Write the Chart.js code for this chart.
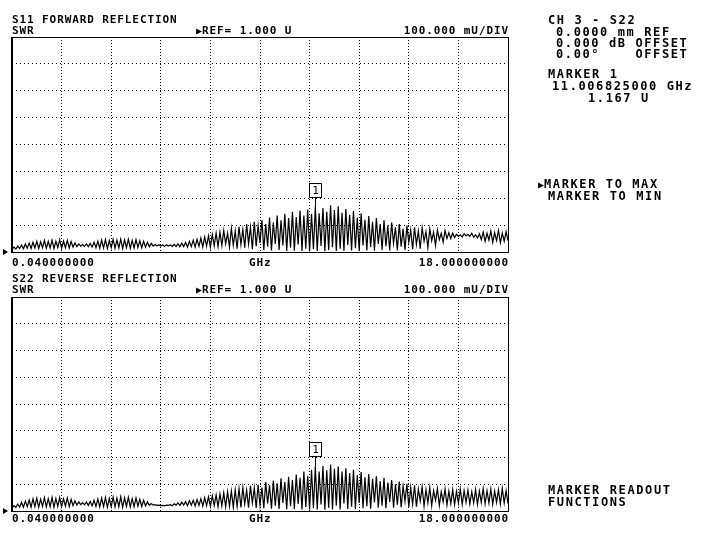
<!DOCTYPE html>
<html>
<head>
  <meta charset="UTF-8">
  <title>S11 / S22 SWR</title>
  <script src="https://cdn.jsdelivr.net/npm/chart.js"></script>
  <style>
    body { margin: 0; background: #fff; }
    #page { position: relative; width: 701px; height: 538px; overflow: hidden;
            font-family: "DejaVu Sans Mono", monospace; font-size: 11px; font-weight: bold;
            letter-spacing: 0.9px; color: #000; }
    canvas { position: absolute; left: 0; top: 0; }
    .t { position: absolute; white-space: pre; line-height: 12px; }
    .side { font-size: 12px; letter-spacing: 1.6px; }
    .tri { font-size: 10px; letter-spacing: 0; }
  </style>
</head>
<body>
<div id="page">
  <canvas id="s11" width="701" height="538"></canvas>
  <canvas id="s22" width="701" height="538"></canvas>

  <div class="t" style="left:12px;top:14px">S11 FORWARD REFLECTION</div>
  <div class="t" style="left:12px;top:25px">SWR</div>
  <div class="t" style="left:196px;top:25px"><span class="tri">▶</span>REF= 1.000 U</div>
  <div class="t" style="right:192px;top:25px">100.000 mU/DIV</div>
  <div class="t" style="left:12px;top:257px">0.040000000</div>
  <div class="t" style="left:249px;top:257px">GHz</div>
  <div class="t" style="right:192px;top:257px">18.000000000</div>

  <div class="t" style="left:12px;top:273px">S22 REVERSE REFLECTION</div>
  <div class="t" style="left:12px;top:284px">SWR</div>
  <div class="t" style="left:196px;top:284px"><span class="tri">▶</span>REF= 1.000 U</div>
  <div class="t" style="right:192px;top:284px">100.000 mU/DIV</div>
  <div class="t" style="left:12px;top:513px">0.040000000</div>
  <div class="t" style="left:249px;top:513px">GHz</div>
  <div class="t" style="right:192px;top:513px">18.000000000</div>

  <div class="t side" style="left:548px;top:14px">CH 3 - S22</div>
  <div class="t side" style="left:556px;top:26px">0.0000 mm REF</div>
  <div class="t side" style="left:556px;top:37px">0.000 dB OFFSET</div>
  <div class="t side" style="left:556px;top:48px">0.00°    OFFSET</div>
  <div class="t side" style="left:548px;top:68px">MARKER 1</div>
  <div class="t side" style="left:552px;top:80px">11.006825000 GHz</div>
  <div class="t side" style="left:588px;top:92px">1.167 U</div>
  <div class="t side" style="left:538px;top:178px"><span class="tri">▶</span>MARKER TO MAX</div>
  <div class="t side" style="left:548px;top:190px">MARKER TO MIN</div>
  <div class="t side" style="left:548px;top:484px">MARKER READOUT</div>
  <div class="t side" style="left:548px;top:496px">FUNCTIONS</div>
</div>
<script>
  // sweep: 261 points from start to stop
  const startGHz = 0.04;
  const stopGHz = 18.0;
  const refSwr = 1.0;
  const perDiv = 0.1;
  const yDivs = 8;
  const xDivs = 10;
  const markerGHz = 11.006825;
  const markerSwr = 1.167;

  // S11 forward reflection, SWR
  const s11Swr = [
    1.010, 1.018, 1.011, 1.022, 1.013, 1.026, 1.012, 1.030, 1.014, 1.033,
    1.013, 1.036, 1.015, 1.040, 1.013, 1.038, 1.016, 1.043, 1.014, 1.039,
    1.015, 1.044, 1.013, 1.040, 1.017, 1.045, 1.014, 1.041, 1.016, 1.043,
    1.015, 1.039, 1.018, 1.034, 1.020, 1.030, 1.022, 1.028, 1.021, 1.030,
    1.020, 1.032, 1.018, 1.036, 1.016, 1.040, 1.014, 1.044, 1.015, 1.046,
    1.013, 1.042, 1.016, 1.047, 1.014, 1.044, 1.015, 1.048, 1.013, 1.045,
    1.016, 1.047, 1.014, 1.043, 1.015, 1.046, 1.017, 1.042, 1.016, 1.040,
    1.018, 1.036, 1.020, 1.032, 1.022, 1.028, 1.023, 1.027, 1.022, 1.026,
    1.021, 1.027, 1.022, 1.026, 1.021, 1.028, 1.020, 1.030, 1.019, 1.033,
    1.020, 1.036, 1.018, 1.040, 1.020, 1.044, 1.018, 1.047, 1.021, 1.052,
    1.019, 1.056, 1.022, 1.060, 1.018, 1.065, 1.023, 1.070, 1.020, 1.074,
    1.024, 1.080, 1.030, 1.070, 1.019, 1.088, 1.025, 1.078, 1.012, 1.094,
    1.028, 1.084, 1.016, 1.104, 1.030, 1.092, 1.010, 1.112, 1.022, 1.098,
    1.034, 1.118, 1.008, 1.104, 1.020, 1.128, 1.006, 1.110, 1.030, 1.136,
    1.008, 1.118, 1.024, 1.142, 1.004, 1.126, 1.016, 1.150, 1.005, 1.130,
    1.028, 1.154, 1.004, 1.136, 1.012, 1.158, 1.003, 1.142, 1.010, 1.167,
    1.004, 1.144, 1.022, 1.164, 1.003, 1.150, 1.008, 1.174, 1.018, 1.156,
    1.004, 1.170, 1.012, 1.146, 1.004, 1.160, 1.026, 1.138, 1.006, 1.152,
    1.014, 1.128, 1.004, 1.144, 1.024, 1.120, 1.006, 1.134, 1.018, 1.112,
    1.006, 1.126, 1.030, 1.104, 1.008, 1.118, 1.022, 1.098, 1.006, 1.110,
    1.032, 1.092, 1.006, 1.104, 1.020, 1.086, 1.008, 1.098, 1.036, 1.082,
    1.010, 1.092, 1.028, 1.078, 1.012, 1.090, 1.040, 1.076, 1.016, 1.086,
    1.042, 1.074, 1.024, 1.082, 1.046, 1.070, 1.036, 1.080, 1.050, 1.072,
    1.050, 1.070, 1.054, 1.066, 1.058, 1.064, 1.056, 1.068, 1.060, 1.066,
    1.058, 1.070, 1.055, 1.064, 1.052, 1.068, 1.046, 1.074, 1.040, 1.070,
    1.044, 1.078, 1.036, 1.072, 1.042, 1.080, 1.034, 1.070, 1.040, 1.076,
    1.042
  ];

  // S22 reverse reflection
  const s22Swr = [
    1.012, 1.020, 1.013, 1.026, 1.015, 1.032, 1.014, 1.037, 1.016, 1.041,
    1.014, 1.045, 1.016, 1.048, 1.014, 1.044, 1.017, 1.050, 1.015, 1.046,
    1.016, 1.051, 1.014, 1.047, 1.017, 1.050, 1.015, 1.046, 1.018, 1.049,
    1.016, 1.044, 1.020, 1.038, 1.022, 1.034, 1.024, 1.031, 1.023, 1.033,
    1.021, 1.036, 1.019, 1.040, 1.017, 1.045, 1.015, 1.048, 1.016, 1.051,
    1.014, 1.047, 1.016, 1.052, 1.015, 1.048, 1.016, 1.053, 1.014, 1.049,
    1.017, 1.051, 1.015, 1.046, 1.016, 1.049, 1.018, 1.044, 1.017, 1.040,
    1.019, 1.034, 1.021, 1.028, 1.022, 1.024, 1.021, 1.022, 1.020, 1.021,
    1.019, 1.022, 1.021, 1.024, 1.020, 1.027, 1.022, 1.030, 1.021, 1.033,
    1.022, 1.035, 1.020, 1.038, 1.022, 1.040, 1.019, 1.043, 1.021, 1.046,
    1.018, 1.050, 1.020, 1.053, 1.017, 1.057, 1.020, 1.060, 1.016, 1.064,
    1.019, 1.068, 1.015, 1.072, 1.018, 1.075, 1.014, 1.079, 1.017, 1.083,
    1.013, 1.088, 1.026, 1.078, 1.012, 1.094, 1.030, 1.086, 1.011, 1.098,
    1.022, 1.088, 1.010, 1.108, 1.028, 1.096, 1.009, 1.114, 1.020, 1.104,
    1.008, 1.122, 1.030, 1.108, 1.007, 1.128, 1.018, 1.116, 1.008, 1.136,
    1.026, 1.124, 1.006, 1.148, 1.014, 1.132, 1.006, 1.154, 1.010, 1.167,
    1.006, 1.148, 1.024, 1.168, 1.005, 1.152, 1.012, 1.174, 1.006, 1.158,
    1.020, 1.166, 1.006, 1.148, 1.028, 1.160, 1.008, 1.142, 1.016, 1.154,
    1.008, 1.134, 1.030, 1.146, 1.010, 1.126, 1.018, 1.138, 1.009, 1.120,
    1.032, 1.130, 1.012, 1.112, 1.020, 1.124, 1.010, 1.106, 1.034, 1.116,
    1.012, 1.100, 1.024, 1.110, 1.014, 1.094, 1.036, 1.102, 1.015, 1.088,
    1.026, 1.096, 1.016, 1.082, 1.038, 1.090, 1.018, 1.080, 1.030, 1.088,
    1.019, 1.076, 1.040, 1.084, 1.020, 1.072, 1.034, 1.082, 1.022, 1.074,
    1.028, 1.080, 1.023, 1.074, 1.030, 1.082, 1.025, 1.076, 1.032, 1.078,
    1.026, 1.072, 1.030, 1.080, 1.024, 1.074, 1.032, 1.084, 1.027, 1.076,
    1.030, 1.082, 1.025, 1.074, 1.032, 1.080, 1.026, 1.084, 1.030, 1.076,
    1.028
  ];

  function toPoints(values) {
    const step = (stopGHz - startGHz) / (values.length - 1);
    return values.map((v, i) => ({ x: startGHz + i * step, y: v }));
  }

  // box around the plot, ref arrow and marker 1
  const framePlugin = {
    id: 'frame',
    afterDraw(chart) {
      const { ctx, chartArea: a, scales: { x, y } } = chart;
      ctx.save();
      ctx.strokeStyle = '#000';
      ctx.fillStyle = '#000';
      ctx.lineWidth = 1;
      ctx.strokeRect(Math.round(a.left) + 0.5, Math.round(a.top) + 0.5,
                     Math.round(a.right - a.left), Math.round(a.bottom - a.top));
      ctx.fillRect(Math.round(a.left) - 1, Math.round(a.top), 2, Math.round(a.bottom - a.top) + 1);

      const yr = y.getPixelForValue(refSwr);
      ctx.beginPath();
      ctx.moveTo(a.left - 9, yr - 3);
      ctx.lineTo(a.left - 9, yr + 3);
      ctx.lineTo(a.left - 4, yr);
      ctx.closePath();
      ctx.fill();

      const mx = Math.round(x.getPixelForValue(markerGHz));
      const my = Math.round(y.getPixelForValue(markerSwr));
      ctx.fillStyle = '#fff';
      ctx.fillRect(mx - 6, my - 24, 12, 14);
      ctx.strokeRect(mx - 6 + 0.5, my - 24 + 0.5, 12, 14);
      ctx.beginPath();
      ctx.moveTo(mx + 0.5, my - 10);
      ctx.lineTo(mx + 0.5, my);
      ctx.stroke();
      ctx.fillStyle = '#000';
      ctx.font = '11px "DejaVu Sans Mono"';
      ctx.textAlign = 'center';
      ctx.textBaseline = 'middle';
      ctx.fillText('1', mx + 1, my - 16);
      ctx.restore();
    }
  };

  function makeChart(id, values, plotTop, plotBottom) {
    return new Chart(document.getElementById(id), {
      type: 'line',
      data: {
        datasets: [{
          data: toPoints(values),
          borderColor: '#000',
          borderWidth: 1.2,
          pointRadius: 0,
          tension: 0,
          fill: false
        }]
      },
      options: {
        responsive: false,
        animation: false,
        events: [],
        layout: { padding: { left: 12, right: 701 - 508, top: plotTop, bottom: 538 - plotBottom } },
        plugins: { legend: { display: false }, tooltip: { enabled: false } },
        scales: {
          x: {
            type: 'linear', min: startGHz, max: stopGHz,
            ticks: { display: false, count: xDivs + 1 },
            grid: { color: '#000', lineWidth: 1, drawTicks: false },
            border: { display: false, dash: [1, 2] }
          },
          y: {
            min: refSwr, max: refSwr + perDiv * yDivs,
            ticks: { display: false, count: yDivs + 1 },
            grid: { color: '#000', lineWidth: 1, drawTicks: false },
            border: { display: false, dash: [1, 3] }
          }
        }
      },
      plugins: [framePlugin]
    });
  }

  makeChart('s11', s11Swr, 37, 252);
  makeChart('s22', s22Swr, 297, 511);
</script>
</body>
</html>
